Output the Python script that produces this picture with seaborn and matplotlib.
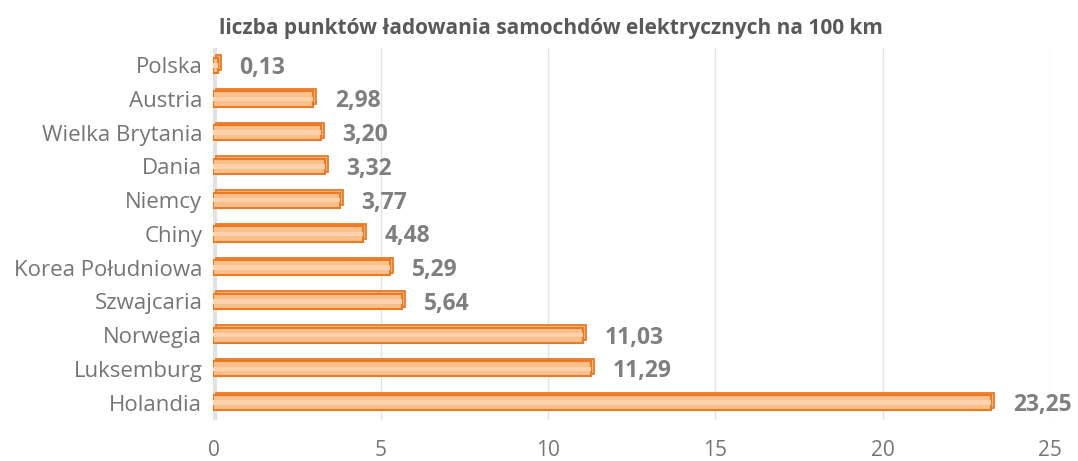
import pandas as pd
import matplotlib.pyplot as plt
import matplotlib.transforms as mtransforms
import seaborn as sns

# chart data
countries = ['Polska', 'Austria', 'Wielka Brytania', 'Dania', 'Niemcy', 'Chiny',
             'Korea Południowa', 'Szwajcaria', 'Norwegia', 'Luksemburg', 'Holandia']
points = [0.13, 2.98, 3.20, 3.32, 3.77, 4.48, 5.29, 5.64, 11.03, 11.29, 23.25]
xticks = [0, 5, 10, 15, 20, 25]

df = pd.DataFrame({'kraj': countries, 'punkty': points})

sns.set_style('white')
plt.rcParams['font.family'] = ['Open Sans', 'DejaVu Sans']

fig = plt.figure(figsize=(10.78, 4.61), dpi=100)
ax = fig.add_axes([0.198, 0.09, 0.776, 0.805])

orange = '#EB7A25'

# back face of the "3D" bars: same bars shifted a couple of pixels up-right
shift = mtransforms.ScaledTranslation(3 / 100, 2.5 / 100, fig.dpi_scale_trans)
ax.barh(range(len(points)), points, height=0.45, color='#F7B47A',
        edgecolor=orange, linewidth=1.3, transform=ax.transData + shift, zorder=2)

sns.barplot(data=df, y='kraj', x='punkty', orient='h', color='#F9C08C',
            edgecolor=orange, linewidth=1.5, width=0.45, saturation=1, ax=ax, zorder=3)

# light inner highlight stripe
for bar in ax.patches[len(points):]:
    y0 = bar.get_y()
    h = bar.get_height()
    ax.barh(y0 + h * 0.5, bar.get_width(), height=h * 0.3, left=0, color='#FCD2AC',
            linewidth=0, zorder=4)

for i, v in enumerate(points):
    ax.text(v + 0.65, i + 0.07, f'{v:.2f}'.replace('.', ','), va='center', ha='left',
            fontsize=16.5, fontweight='bold', color='#7F7F7F')

ax.set_xlim(0, 25)
ax.set_ylim(10.5, -0.5)
ax.set_xticks(xticks)
ax.set_xticklabels([str(t) for t in xticks])
ax.xaxis.grid(True, color='#E3E3E3', linewidth=1)
ax.set_axisbelow(True)
for s in ax.spines.values():
    s.set_visible(False)
ax.axvline(0, color='#E2E2E2', linewidth=6, zorder=1)
ax.tick_params(axis='y', length=0, labelsize=16, colors='#757575', pad=8)
ax.tick_params(axis='x', length=0, labelsize=15, colors='#757575', pad=15)
ax.set_xlabel('')
ax.set_ylabel('')

fig.suptitle('liczba punktów ładowania samochdów elektrycznych na 100 km',
             x=0.511, y=0.96, fontsize=15, fontweight='bold', color='#595959')

fig.savefig('out.png', dpi=100)
